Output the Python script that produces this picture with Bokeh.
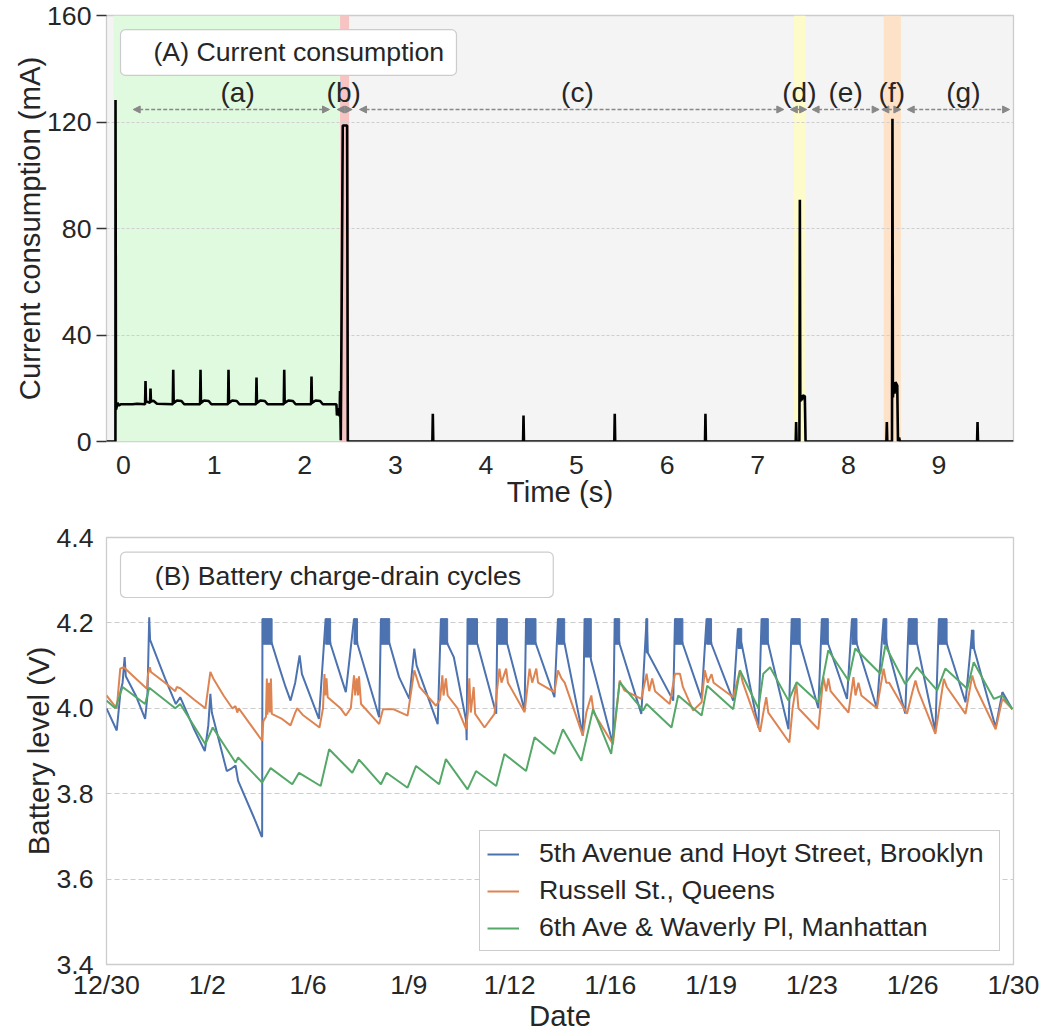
import numpy as np
from bokeh.plotting import figure
from bokeh.layouts import column
from bokeh.models import (BoxAnnotation, Label, Arrow, NormalHead, FixedTicker,
                          Legend, LegendItem, Range1d, PrintfTickFormatter)
from bokeh.embed import file_html
from bokeh.resources import INLINE

FONT = "Liberation Sans"
TXT = "#262626"

# ---------------- Panel A: current consumption ----------------
current_time_s = [
    -0.19, -0.089, -0.088, -0.083, -0.075, -0.065, -0.050, -0.030,
    0.100, 0.150, 0.238, 0.243, 0.248, 0.270, 0.293, 0.298, 0.303, 0.330, 0.370,
    0.544, 0.549, 0.554, 0.590, 0.640, 0.670,
    0.845, 0.850, 0.855, 0.890, 0.940, 0.970,
    1.154, 1.159, 1.164, 1.200, 1.250, 1.280,
    1.463, 1.468, 1.473, 1.510, 1.560, 1.590,
    1.769, 1.774, 1.779, 1.820, 1.870, 1.900,
    2.070, 2.075, 2.080, 2.120, 2.170, 2.200,
    2.350, 2.356, 2.372, 2.385, 2.390, 2.398, 2.412, 2.420, 2.468, 2.476,
    3.409, 3.414, 3.419,
    4.410, 4.415, 4.420,
    5.417, 5.422, 5.427,
    6.418, 6.423, 6.428,
    7.419, 7.424, 7.429, 7.460, 7.465, 7.470, 7.480, 7.488, 7.496, 7.520, 7.528,
    8.420, 8.425, 8.430, 8.482, 8.487, 8.492, 8.502, 8.510, 8.520, 8.540, 8.548, 8.560, 8.570,
    9.421, 9.426, 9.431, 9.823,
]
current_ma = [
    0.0, 0.0, 128.3, 12.0, 13.0, 14.5, 13.5, 14.0,
    14.0, 14.2, 14.0, 22.7, 15.0, 14.8, 14.5, 19.9, 15.0, 15.3, 14.2,
    14.0, 26.9, 14.5, 15.4, 15.2, 14.0,
    14.0, 26.9, 14.5, 15.4, 15.2, 14.0,
    14.0, 26.9, 14.5, 15.4, 15.2, 14.0,
    14.0, 24.0, 14.5, 15.4, 15.2, 14.0,
    14.0, 26.9, 14.5, 15.4, 15.2, 14.0,
    14.0, 24.4, 14.5, 15.4, 15.2, 14.0,
    14.0, 9.8, 12.5, 9.5, 19.0, 0.5, 73.0, 118.7, 118.7, 0.0,
    0.0, 10.4, 0.0,
    0.0, 9.8, 0.0,
    0.0, 10.4, 0.0,
    0.0, 10.4, 0.0,
    0.0, 7.3, 0.0, 0.0, 90.8, 15.0, 17.3, 15.5, 17.3, 17.0, 0.0,
    0.0, 7.3, 0.0, 0.0, 121.2, 16.6, 22.3, 18.0, 22.3, 21.0, 0.0, 1.5, 0.0,
    0.0, 7.3, 0.0, 0.0,
]

phase_names = ["(a)", "(b)", "(c)", "(d)", "(e)", "(f)", "(g)"]
phase_start_s = [0.107, 2.359, 2.605, 7.36, 7.60, 8.37, 8.65]
phase_end_s = [2.274, 2.524, 7.288, 7.54, 8.34, 8.58, 9.78]
phase_label_s = [1.26, 2.43, 5.01, 7.46, 7.97, 8.48, 9.27]

shade_start_s = [-0.11, 2.39, 7.40, 8.39]
shade_end_s = [2.39, 2.49, 7.53, 8.58]
shade_colors = ["#e0fadf", "#f7c4c4", "#fcfbc9", "#fde2c8"]

time_ticks = [0, 1, 2, 3, 4, 5, 6, 7, 8, 9]
current_ticks = [0, 40, 80, 120, 160]

# ---------------- Panel B: battery level ----------------
date_labels = ["12/30", "1/2", "1/6", "1/9", "1/12", "1/16", "1/19", "1/23", "1/26", "1/30"]
span_days = 31.0

blue_day = [
    0.00, 0.35, 0.48, 0.55, 0.62, 0.66, 1.00, 1.32, 1.40, 1.46,
    1.49, 2.00, 2.37, 2.52, 3.00, 3.36, 3.48, 3.55, 3.60, 4.11,
    4.25, 4.41, 4.50, 5.09, 5.30, 5.32, 5.33, 5.66, 5.90, 6.12,
    6.29, 6.45, 6.60, 6.68, 7.26, 7.49, 7.66, 8.18, 8.46, 8.58,
    9.32, 9.38, 9.68, 10.00, 10.35, 10.52, 10.60, 11.32, 11.43, 11.66,
    11.87, 12.29, 12.31, 12.34, 12.68, 13.32, 13.36, 13.70, 14.29, 14.34,
    14.68, 15.31, 15.43, 15.66, 16.28, 16.34, 16.57, 17.31, 17.37, 17.54,
    18.28, 18.46, 18.50, 19.37, 19.43, 19.70, 20.34, 20.51, 20.68, 21.42,
    21.58, 21.71, 22.28, 22.39, 22.62, 23.31, 23.42, 23.71, 24.33, 24.45,
    24.67, 25.31, 25.48, 25.65, 26.33, 26.56, 26.67, 27.30, 27.42, 27.71,
    28.33, 28.45, 28.73, 29.36, 29.59, 29.65, 30.39, 30.62, 30.96,
]
blue_volt = [
    4.000, 3.948, 4.040, 4.060, 4.120, 4.075, 4.030, 3.975, 4.030, 4.213,
    4.160, 4.070, 4.010, 4.026, 3.950, 3.900, 3.960, 4.034, 3.990, 3.853,
    3.858, 3.866, 3.830, 3.736, 3.700, 3.700, 4.210, 4.150, 4.097, 4.050,
    4.018, 4.060, 4.124, 4.080, 3.975, 4.210, 4.150, 4.038, 4.210, 4.150,
    3.979, 4.210, 4.150, 4.073, 4.022, 4.140, 4.100, 3.963, 4.210, 4.150,
    4.120, 3.971, 3.925, 4.210, 4.150, 3.987, 4.210, 4.150, 3.995, 4.210,
    4.150, 4.026, 4.210, 4.150, 3.936, 4.210, 4.110, 3.916, 4.210, 4.150,
    3.987, 4.210, 4.130, 4.018, 4.210, 4.150, 4.022, 4.210, 4.150, 4.018,
    4.187, 4.150, 3.955, 4.210, 4.150, 3.951, 4.210, 4.150, 4.000, 4.210,
    4.150, 4.022, 4.210, 4.150, 4.000, 4.210, 4.150, 3.988, 4.210, 4.150,
    3.945, 4.210, 4.150, 4.014, 4.183, 4.140, 3.955, 4.038, 3.998,
]
# dense charging oscillation blocks of the Brooklyn sensor
blue_band_start = [5.33, 7.49, 8.46, 9.38, 11.43, 12.34, 13.36, 14.34, 15.43, 16.34,
                   17.37, 18.44, 19.43, 20.51, 21.58, 22.39, 23.42, 24.45, 25.48, 26.56,
                   27.42, 28.45, 29.56]
blue_band_end = [5.66, 7.66, 8.58, 9.68, 11.66, 12.68, 13.70, 14.68, 15.66, 16.57,
                 17.54, 18.50, 19.70, 20.68, 21.71, 22.62, 23.71, 24.67, 25.65, 26.67,
                 27.71, 28.73, 29.65]
blue_band_low = [4.15, 4.15, 4.15, 4.15, 4.15, 4.15, 4.15, 4.15, 4.15, 4.12,
                 4.15, 4.13, 4.15, 4.15, 4.14, 4.15, 4.15, 4.15, 4.15, 4.15,
                 4.15, 4.15, 4.14]
blue_band_high = [4.21, 4.21, 4.21, 4.21, 4.21, 4.21, 4.21, 4.21, 4.21, 4.21,
                  4.21, 4.21, 4.21, 4.21, 4.187, 4.21, 4.21, 4.21, 4.21, 4.21,
                  4.21, 4.21, 4.183]

orange_day = [
    0.00, 0.35, 0.47, 0.59, 1.00, 1.38, 1.42, 1.48, 1.52, 2.00,
    2.35, 2.40, 2.52, 3.00, 3.38, 3.50, 3.55, 3.65, 4.00, 4.30,
    4.41, 4.47, 4.52, 5.32, 5.36, 5.45, 5.48, 5.50, 5.55, 5.58,
    5.62, 5.65, 6.00, 6.29, 6.45, 6.52, 6.70, 7.28, 7.40, 7.45,
    7.48, 7.52, 7.56, 8.00, 8.18, 8.35, 8.46, 8.50, 8.55, 8.60,
    8.63, 8.70, 9.32, 9.45, 9.80, 10.29, 10.52, 10.70, 11.26, 11.40,
    11.48, 11.52, 11.60, 11.66, 12.00, 12.29, 12.35, 12.40, 12.45, 12.55,
    12.60, 12.92, 13.26, 13.43, 13.50, 13.66, 13.72, 14.29, 14.46, 14.55,
    14.69, 14.75, 15.31, 15.43, 15.55, 15.66, 16.28, 16.40, 16.57, 16.65,
    17.31, 17.54, 17.70, 18.28, 18.46, 18.55, 18.65, 18.75, 19.25, 19.43,
    19.60, 19.70, 20.05, 20.34, 20.45, 20.55, 20.68, 20.75, 21.42, 21.65,
    21.75, 22.34, 22.45, 22.55, 22.62, 23.34, 23.45, 23.58, 23.65, 24.33,
    24.50, 24.60, 24.67, 24.75, 25.36, 25.53, 25.60, 25.70, 25.80, 26.33,
    26.56, 26.65, 26.75, 27.36, 27.55, 27.65, 27.75, 28.33, 28.62, 28.72,
    29.36, 29.59, 29.70, 30.39, 30.62, 30.96,
]
orange_volt = [
    4.030, 4.000, 4.093, 4.096, 4.070, 4.046, 4.080, 4.096, 4.085, 4.060,
    4.040, 4.050, 4.047, 4.020, 4.000, 4.060, 4.085, 4.070, 4.030, 4.000,
    4.005, 3.990, 4.000, 3.924, 3.970, 3.980, 4.070, 3.985, 4.060, 3.990,
    4.070, 3.987, 3.975, 3.960, 3.990, 4.000, 3.985, 3.955, 4.000, 4.080,
    4.030, 4.070, 4.026, 4.000, 3.983, 4.000, 4.077, 4.030, 4.070, 4.030,
    4.075, 4.010, 3.963, 3.998, 3.998, 3.983, 4.089, 4.050, 4.006, 4.020,
    4.077, 4.030, 4.070, 4.030, 4.000, 3.951, 3.990, 4.070, 3.990, 4.050,
    3.987, 3.955, 3.987, 4.093, 4.060, 4.093, 4.060, 3.991, 4.093, 4.060,
    4.093, 4.060, 4.038, 4.089, 4.070, 4.060, 3.936, 3.990, 4.030, 3.990,
    3.916, 4.065, 4.042, 4.022, 4.081, 4.040, 4.070, 4.040, 4.010, 4.081,
    4.081, 4.050, 3.995, 4.014, 4.089, 4.060, 4.080, 4.060, 4.026, 4.089,
    4.060, 3.945, 3.990, 4.026, 3.990, 3.920, 4.000, 4.057, 4.000, 3.951,
    4.073, 4.040, 4.070, 4.040, 3.990, 4.073, 4.030, 4.060, 4.030, 4.000,
    4.093, 4.060, 4.060, 3.987, 4.040, 4.065, 4.040, 3.940, 4.069, 4.050,
    3.987, 4.077, 4.050, 3.951, 4.022, 3.998,
]

green_day = [
    0.00, 0.30, 0.55, 1.32, 1.46, 2.35, 2.52, 3.38, 3.63, 4.41,
    4.50, 5.32, 5.61, 6.35, 6.58, 7.32, 7.61, 8.40, 8.63, 9.38,
    9.57, 10.29, 10.58, 11.37, 11.60, 12.34, 12.63, 13.32, 13.60, 14.34,
    14.63, 15.31, 15.60, 16.23, 16.63, 17.25, 17.54, 18.34, 18.46, 19.31,
    19.54, 20.34, 20.53, 21.42, 21.65, 22.28, 22.45, 22.68, 23.31, 23.59,
    24.33, 24.67, 25.36, 25.59, 26.45, 26.62, 27.30, 27.70, 28.39, 28.67,
    29.42, 29.64, 30.33, 30.62, 30.96,
]
green_volt = [
    4.018, 4.000, 4.050, 4.010, 4.048, 4.000, 4.010, 3.916, 3.955, 3.873,
    3.885, 3.826, 3.860, 3.822, 3.849, 3.818, 3.904, 3.849, 3.880, 3.822,
    3.849, 3.814, 3.865, 3.822, 3.881, 3.810, 3.853, 3.818, 3.893, 3.853,
    3.932, 3.893, 3.951, 3.877, 3.998, 3.893, 4.061, 3.995, 4.010, 3.955,
    4.030, 3.983, 4.053, 3.998, 4.089, 4.000, 4.081, 4.096, 4.018, 4.061,
    4.014, 4.136, 4.065, 4.140, 4.081, 4.147, 4.057, 4.096, 4.042, 4.093,
    4.046, 4.108, 4.022, 4.030, 3.998,
]
series_names = ["5th Avenue and Hoyt Street, Brooklyn", "Russell St., Queens",
                "6th Ave & Waverly Pl, Manhattan"]
series_colors = ["#4c72b0", "#dd8452", "#55a868"]
volt_ticks = [3.4, 3.6, 3.8, 4.0, 4.2, 4.4]


def style_axes(p):
    for ax in (p.xaxis[0], p.yaxis[0]):
        ax.axis_line_color = None
        ax.minor_tick_line_color = None
        ax.major_tick_in = 0
        ax.major_label_text_font = FONT
        ax.major_label_text_font_size = "26.7px"
        ax.major_label_text_color = TXT
        ax.axis_label_text_font = FONT
        ax.axis_label_text_font_size = "29.3px"
        ax.axis_label_text_font_style = "normal"
        ax.axis_label_text_color = TXT


# ---------------- figure A ----------------
pA = figure(frame_width=907, frame_height=426,
            x_range=Range1d(-0.1876, 9.823), y_range=Range1d(0, 160),
            output_backend="svg", toolbar_location=None,
            min_border_left=106, min_border_right=30, min_border_top=15, min_border_bottom=80,
            background_fill_color="#f4f4f4", outline_line_color="#cccccc", outline_line_width=1.3)
style_axes(pA)
pA.xgrid.visible = False
pA.ygrid.grid_line_color = "#cfcfcf"
pA.ygrid.grid_line_dash = "3 2"
pA.ygrid.grid_line_width = 1
pA.xaxis.ticker = FixedTicker(ticks=time_ticks)
pA.xaxis.major_tick_out = 0
pA.xaxis.major_label_standoff = 14
pA.xaxis.axis_label = "Time (s)"
pA.xaxis.axis_label_standoff = -2
pA.yaxis.ticker = FixedTicker(ticks=current_ticks)
pA.yaxis.major_tick_out = 10
pA.yaxis.major_tick_line_color = "#333333"
pA.yaxis.major_tick_line_width = 1.3
pA.yaxis.major_label_standoff = 5
pA.yaxis.axis_label = "Current consumption (mA)"
pA.yaxis.axis_label_standoff = -2

for s, e, c in zip(shade_start_s, shade_end_s, shade_colors):
    pA.add_layout(BoxAnnotation(left=s, right=e, fill_color=c, fill_alpha=1.0,
                                line_color=c, line_alpha=0.0, level="image"))

pA.line(current_time_s, current_ma, line_color="black", line_width=2.6)

arrow_y = 124.7
for name, s, e, lx in zip(phase_names, phase_start_s, phase_end_s, phase_label_s):
    pA.add_layout(Arrow(x_start=s, x_end=e, y_start=arrow_y, y_end=arrow_y,
                        start=NormalHead(size=7, fill_color="#888888", line_color="#888888"),
                        end=NormalHead(size=7, fill_color="#888888", line_color="#888888"),
                        line_color="#888888", line_dash="4 2", line_width=1.3))
    pA.add_layout(Label(x=lx, y=131.2, text=name, text_align="center",
                        text_baseline="alphabetic", text_font=FONT,
                        text_font_size="28px", text_color=TXT))

pA.add_layout(BoxAnnotation(left=-0.033, right=3.675, bottom=137.5, top=154.7,
                            fill_color="white", fill_alpha=1.0, line_color="#cccccc",
                            line_alpha=1.0, line_width=1.2, border_radius=5))
pA.add_layout(Label(x=0.331, y=146.2, text="(A) Current consumption",
                    text_baseline="alphabetic", text_font=FONT,
                    text_font_size="26.7px", text_color=TXT))

# ---------------- figure B ----------------
pB = figure(frame_width=907, frame_height=427,
            x_range=Range1d(0, span_days), y_range=Range1d(3.4, 4.4),
            output_backend="svg", toolbar_location=None,
            min_border_left=106, min_border_right=30, min_border_top=16, min_border_bottom=0,
            background_fill_color="white", outline_line_color="#cccccc", outline_line_width=1.3)
style_axes(pB)
pB.xgrid.visible = False
pB.ygrid.grid_line_color = "#cccccc"
pB.ygrid.grid_line_dash = "5 3"
pB.ygrid.grid_line_width = 1
date_ticks = [float(v) for v in np.linspace(0.0, span_days, len(date_labels))]
pB.xaxis.ticker = FixedTicker(ticks=date_ticks)
pB.xaxis.major_label_overrides = {t: lab for t, lab in zip(date_ticks, date_labels)}
pB.xaxis.major_tick_out = 0
pB.xaxis.major_label_standoff = 5
pB.xaxis.axis_label = "Date"
pB.xaxis.axis_label_standoff = -4
pB.yaxis.ticker = FixedTicker(ticks=volt_ticks)
pB.yaxis.formatter = PrintfTickFormatter(format="%.1f")
pB.yaxis.major_tick_out = 0
pB.yaxis.major_label_standoff = 13
pB.yaxis.axis_label = "Battery level (V)"
pB.yaxis.axis_label_standoff = -2

rb = pB.line(blue_day, blue_volt, line_color=series_colors[0], line_width=2)
pB.quad(left=blue_band_start, right=blue_band_end, bottom=blue_band_low, top=blue_band_high,
        fill_color=series_colors[0], line_color=series_colors[0], line_width=1)
ro = pB.line(orange_day, orange_volt, line_color=series_colors[1], line_width=2)
rg = pB.line(green_day, green_volt, line_color=series_colors[2], line_width=2)

legend = Legend(items=[LegendItem(label=series_names[0], renderers=[rb]),
                       LegendItem(label=series_names[1], renderers=[ro]),
                       LegendItem(label=series_names[2], renderers=[rg])],
                location="bottom_right", margin=13, padding=7, spacing=6,
                glyph_width=32, glyph_height=26, label_standoff=20, label_height=26,
                label_width=453,
                label_text_font=FONT, label_text_font_size="26.7px", label_text_color=TXT,
                border_line_color="#cccccc", border_line_width=1.2, border_line_alpha=1.0,
                background_fill_color="white", background_fill_alpha=1.0)
pB.add_layout(legend)

pB.add_layout(BoxAnnotation(left=0.479, right=15.27, bottom=4.2595, top=4.3656,
                            fill_color="white", fill_alpha=1.0, line_color="#cccccc",
                            line_alpha=1.0, line_width=1.2, border_radius=5))
pB.add_layout(Label(x=1.65, y=4.310, text="(B) Battery charge-drain cycles",
                    text_baseline="alphabetic", text_font=FONT,
                    text_font_size="26.7px", text_color=TXT))

layout = column(pA, pB, spacing=0)
open("out.html", "w").write(file_html(layout, INLINE, "chart"))
